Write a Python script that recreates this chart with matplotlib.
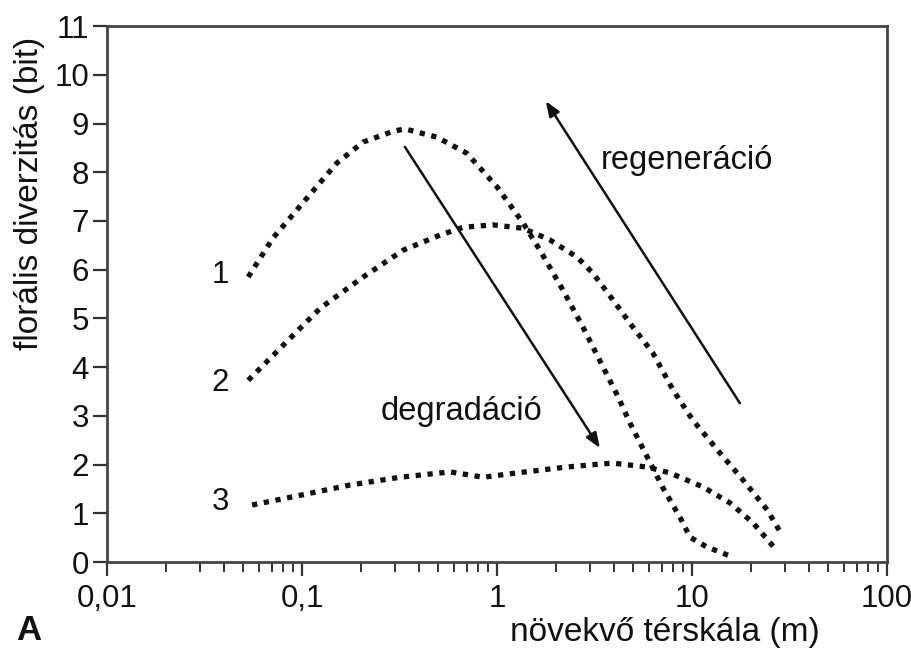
import matplotlib
matplotlib.use("Agg")
import matplotlib.pyplot as plt
from matplotlib.ticker import FixedLocator, LogLocator, NullFormatter

plt.rcParams["font.family"] = ["Liberation Sans", "DejaVu Sans"]

# curve 1
x1 = [0.053, 0.071, 0.106, 0.151, 0.206, 0.293, 0.337, 0.492, 0.70, 1.0, 1.36,
      1.66, 2.18, 2.76, 3.5, 4.18, 4.81, 5.94, 7.1, 8.67, 9.77, 11.9, 15.3]
y1 = [5.85, 6.65, 7.47, 8.19, 8.62, 8.84, 8.89, 8.72, 8.39, 7.70, 6.96,
      6.40, 5.58, 4.82, 4.0, 3.39, 2.85, 2.13, 1.52, 0.92, 0.51, 0.31, 0.14]

# curve 2
x2 = [0.053, 0.124, 0.206, 0.33, 0.51, 0.67, 0.95, 1.36, 1.87, 2.57, 3.1,
      3.93, 4.98, 6.3, 8.0, 10.1, 13.9, 18.3, 24.3, 29.0]
y2 = [3.73, 5.21, 5.85, 6.40, 6.71, 6.87, 6.92, 6.85, 6.61, 6.26, 5.93,
      5.38, 4.82, 4.29, 3.53, 2.91, 2.24, 1.68, 1.07, 0.55]

# curve 3
x3 = [0.0555, 0.098, 0.176, 0.318, 0.574, 0.85, 1.27, 2.28, 3.37, 3.93,
      5.87, 7.7, 11.4, 15.7, 20.6, 27.3]
y3 = [1.17, 1.37, 1.58, 1.74, 1.85, 1.74, 1.83, 1.95, 2.01, 2.03,
      1.95, 1.83, 1.54, 1.21, 0.80, 0.23]

curve_names = ["1", "2", "3"]
curve_label_y = [5.89, 3.67, 1.23]

x_ticks = [0.01, 0.1, 1, 10, 100]
x_tick_labels = ["0,01", "0,1", "1", "10", "100"]
y_ticks = list(range(0, 12))

fig = plt.figure(figsize=(9.12, 6.52), dpi=100)
ax = fig.add_axes([0.1173, 0.138, 0.8553, 0.822])

for xs, ys in [(x1, y1), (x2, y2), (x3, y3)]:
    ax.plot(xs, ys, color="#111111", linestyle=(0, (1, 1.25)), linewidth=3.8)

for name, yy in zip(curve_names, curve_label_y):
    ax.text(0.038, yy, name, fontsize=22.5, ha="center", va="center", color="#111111")

# arrows
ax.annotate("", xy=(3.37, 2.34), xytext=(0.337, 8.52),
            arrowprops=dict(arrowstyle="-|>,head_length=0.9,head_width=0.35",
                            color="#111111", lw=1.8, shrinkA=0, shrinkB=0))
ax.annotate("", xy=(1.78, 9.46), xytext=(17.6, 3.26),
            arrowprops=dict(arrowstyle="-|>,head_length=0.9,head_width=0.35",
                            color="#111111", lw=1.8, shrinkA=0, shrinkB=0))
ax.text(0.66, 3.08, "degradáció", fontsize=23.5, ha="center", va="center", color="#111111")
ax.text(9.42, 8.25, "regeneráció", fontsize=23.5, ha="center", va="center", color="#111111")

ax.set_xscale("log")
ax.set_xlim(0.01, 100)
ax.set_ylim(0, 11)
ax.xaxis.set_major_locator(FixedLocator(x_ticks))
ax.set_xticklabels(x_tick_labels)
ax.xaxis.set_minor_locator(LogLocator(base=10, subs=range(2, 10)))
ax.xaxis.set_minor_formatter(NullFormatter())
ax.set_yticks(y_ticks)

ax.tick_params(axis="both", which="major", direction="out", length=10, width=1.6,
               labelsize=22.5, color="#333333", labelcolor="#111111")
ax.tick_params(axis="x", which="major", pad=6)
ax.tick_params(axis="y", which="major", pad=3)
ax.tick_params(axis="x", which="minor", direction="out", length=7, width=1.4, color="#333333")
for s in ax.spines.values():
    s.set_linewidth(2)
    s.set_color("#444444")

fig.text(30 / 912, 1 - 193 / 652, "florális diverzitás (bit)", rotation=90,
         fontsize=24, ha="center", va="center", color="#111111")
fig.text(665 / 912, 1 - 633 / 652, "növekvő térskála (m)",
         fontsize=24, ha="center", va="center", color="#111111")
fig.text(29 / 912, 1 - 631 / 652, "A", fontsize=25, fontweight="bold",
         ha="center", va="center", color="#111111")

fig.savefig("out.png", dpi=100)
